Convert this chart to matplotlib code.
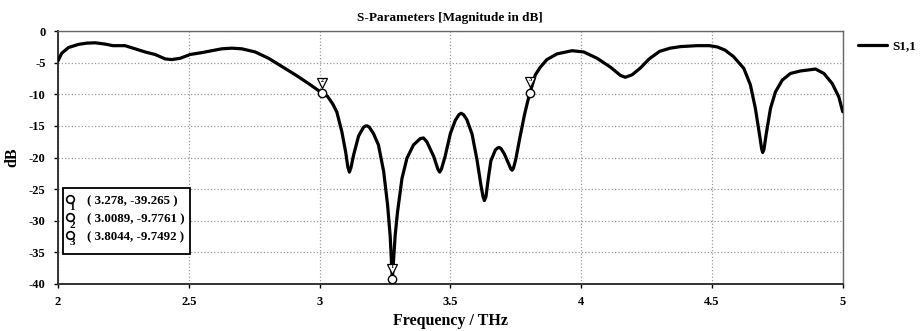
import matplotlib.pyplot as plt
import matplotlib.transforms as mtransforms
from matplotlib.patches import Rectangle

plt.rcParams['font.family'] = ['Liberation Serif', 'DejaVu Serif']
plt.rcParams['font.weight'] = 'bold'
plt.rcParams['axes.unicode_minus'] = False

# S1,1 magnitude (dB) against frequency (THz)
freq = [2.000, 2.014, 2.040, 2.078, 2.110, 2.142, 2.180, 2.210, 2.256, 2.295,
        2.333, 2.371, 2.410, 2.435, 2.467, 2.505, 2.550, 2.588, 2.626, 2.664,
        2.703, 2.754, 2.805, 2.856, 2.907, 2.958, 3.0089, 3.030, 3.050, 3.066,
        3.085, 3.100, 3.108, 3.114, 3.120, 3.130, 3.149, 3.168, 3.176, 3.183,
        3.190, 3.206, 3.225, 3.245, 3.260, 3.270, 3.278, 3.289, 3.298, 3.315,
        3.334, 3.359, 3.385, 3.397, 3.410, 3.436, 3.452, 3.459, 3.466, 3.480,
        3.500, 3.519, 3.533, 3.541, 3.550, 3.563, 3.583, 3.602, 3.617, 3.625,
        3.630, 3.636, 3.645, 3.655, 3.672, 3.680, 3.687, 3.694, 3.706, 3.723,
        3.731, 3.736, 3.741, 3.750, 3.765, 3.783, 3.795, 3.8044, 3.825, 3.844,
        3.869, 3.908, 3.965, 4.010, 4.061, 4.112, 4.150, 4.169, 4.195, 4.226,
        4.260, 4.300, 4.340, 4.380, 4.443, 4.490, 4.520, 4.550, 4.583, 4.622,
        4.647, 4.666, 4.682, 4.690, 4.694, 4.699, 4.707, 4.724, 4.743, 4.769,
        4.800, 4.839, 4.896, 4.928, 4.960, 4.985, 5.000]
s11 = [-4.7, -3.5, -2.6, -2.1, -1.9, -1.85, -2.05, -2.3, -2.3, -2.8,
       -3.3, -3.7, -4.4, -4.5, -4.3, -3.7, -3.4, -3.1, -2.8, -2.7,
       -2.8, -3.3, -4.3, -5.6, -6.9, -8.3, -9.7761, -10.3, -11.5, -12.8,
       -15.9, -19.2, -21.5, -22.3, -21.6, -19.6, -16.6, -15.2, -15.0, -15.0,
       -15.2, -16.2, -18.0, -22.2, -27.5, -32.5, -39.265, -32.3, -28.6, -23.3,
       -20.1, -18.0, -17.0, -16.9, -17.5, -19.8, -21.8, -22.3, -21.8, -19.8,
       -16.2, -14.1, -13.2, -13.0, -13.2, -14.0, -16.3, -20.4, -24.4, -26.2,
       -26.8, -26.2, -23.3, -20.5, -18.8, -18.5, -18.4, -18.6, -19.4, -21.0,
       -21.8, -22.0, -21.7, -20.3, -17.0, -13.3, -11.2, -9.7492, -6.9, -5.7,
       -4.5, -3.6, -3.1, -3.3, -4.3, -5.7, -7.0, -7.3, -6.9, -5.85,
       -4.4, -3.2, -2.7, -2.45, -2.3, -2.3, -2.5, -3.0, -4.05, -5.9,
       -8.5, -12.2, -16.4, -18.6, -19.2, -18.7, -16.4, -12.2, -9.6, -7.75,
       -6.7, -6.3, -6.0, -6.7, -8.3, -10.4, -12.75]

marker_ids = ['1', '2', '3']
marker_freq = [3.278, 3.0089, 3.8044]
marker_db = [-39.265, -9.7761, -9.7492]

fig = plt.figure(figsize=(9.21, 3.31), dpi=100)
ax = fig.add_axes([0.063, 0.142, 0.852, 0.764])

ax.plot(freq, s11, color='black', lw=2.3, label='S1,1', zorder=3,
        solid_capstyle='round', solid_joinstyle='round')

# marker points: open circle on the curve, open triangle just above it
tri_tr = mtransforms.offset_copy(ax.transData, fig=fig, x=0, y=7.5, units='points')
for mid, mx, my in zip(marker_ids, marker_freq, marker_db):
    ax.plot(mx, my, 'o', ms=6, mfc='white', mec='black', mew=1.0, zorder=5,
            clip_on=False)
    ax.plot(mx, my, 'v', ms=7.5, mfc='white', mec='black', mew=0.9, zorder=5,
            transform=tri_tr, clip_on=False)
    ax.text(mx, my, mid, transform=tri_tr, fontsize=4.5, ha='center',
            va='bottom', zorder=6)

ax.set_xlim(2, 5)
ax.set_ylim(-40, 0)
ax.set_xticks([2, 2.5, 3, 3.5, 4, 4.5, 5])
ax.set_xticklabels(['2', '2.5', '3', '3.5', '4', '4.5', '5'])
ax.set_yticks(range(-40, 1, 5))
ax.tick_params(labelsize=9, direction='out', length=3, width=1, pad=6)
ax.grid(True, color='#9a9a9a', linestyle=':', linewidth=0.9)

for side in ['top', 'right']:
    ax.spines[side].set_color('#666666')
    ax.spines[side].set_linewidth(1.0)
for side in ['left', 'bottom']:
    ax.spines[side].set_color('#333333')
    ax.spines[side].set_linewidth(1.4)

ax.set_title('S-Parameters [Magnitude in dB]', fontsize=9.5, fontweight='bold', pad=7)
ax.set_xlabel('Frequency / THz', fontsize=11.5, fontweight='bold', labelpad=3)
ax.set_ylabel('dB', fontsize=11.5, fontweight='bold', labelpad=6)

ax.legend(loc='upper left', bbox_to_anchor=(1.008, 1.0), frameon=False,
          fontsize=9.5, handlelength=2.2, handletextpad=0.4, borderaxespad=0.3)

# marker readout box
ax.add_patch(Rectangle((0.0064, 0.119), 0.162, 0.26, transform=ax.transAxes,
                       facecolor='white', edgecolor='black', lw=1.3, zorder=6))
row_y = [0.324, 0.253, 0.182]
for mid, mx, my, ry in zip(marker_ids, marker_freq, marker_db, row_y):
    ax.plot(0.0155, ry + 0.012, 'o', ms=5.5, mfc='white', mec='black', mew=1.2,
            transform=ax.transAxes, zorder=7, clip_on=False)
    ax.text(0.0178, ry - 0.002, mid, transform=ax.transAxes, fontsize=8,
            ha='center', va='top', zorder=7)
    ax.text(0.037, ry + 0.004, f'( {mx:g}, {my:g} )', transform=ax.transAxes,
            fontsize=9.3, va='center', ha='left', zorder=7)

fig.savefig('out.png', dpi=100)
